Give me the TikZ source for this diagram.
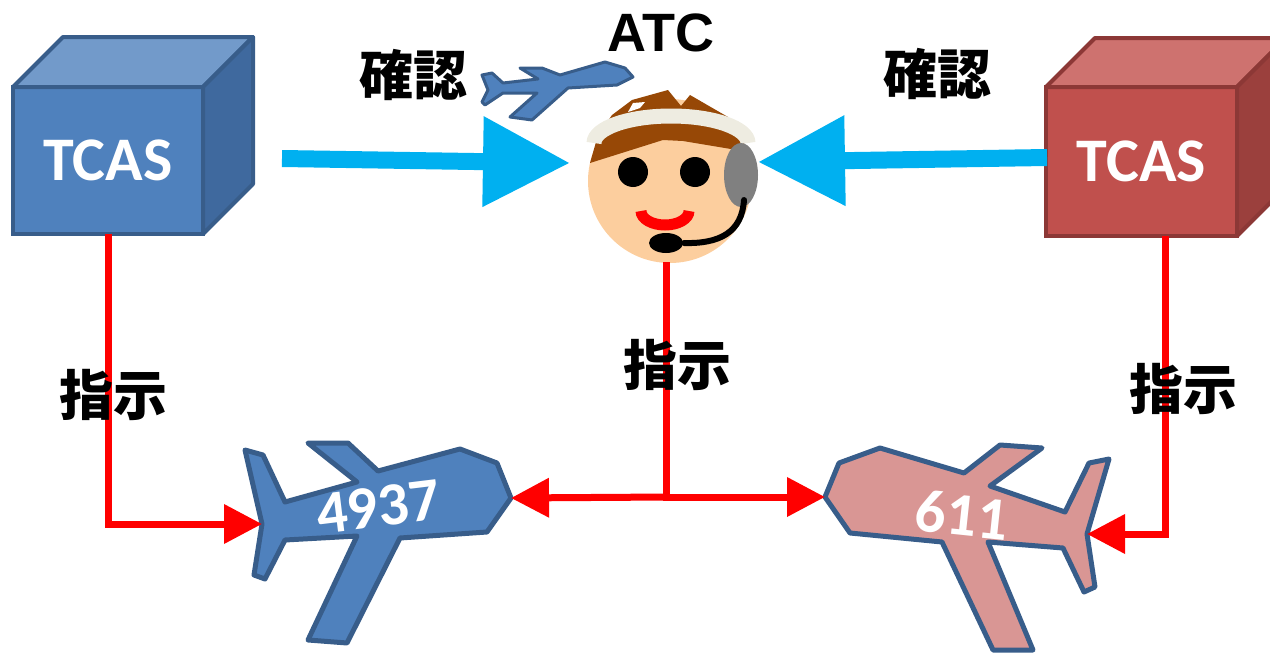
\documentclass[tikz,border=0pt]{standalone}
\usepackage{fontspec}
\setmainfont{Carlito}
\newfontfamily\cjk{Noto Sans CJK JP}
\newfontfamily\atcfont{Liberation Sans}
\usetikzlibrary{arrows.meta}

\definecolor{boxblue}{RGB}{79,129,189}
\definecolor{boxbluetop}{RGB}{114,154,202}
\definecolor{boxblueside}{RGB}{63,105,158}
\definecolor{edgeblue}{RGB}{56,93,138}
\definecolor{boxred}{RGB}{192,80,77}
\definecolor{boxredtop}{RGB}{206,114,111}
\definecolor{boxredside}{RGB}{155,64,61}
\definecolor{edgered}{RGB}{140,56,54}
\definecolor{planepink}{RGB}{217,150,148}
\definecolor{skyarrow}{RGB}{0,176,240}
\definecolor{skin}{RGB}{252,206,158}
\definecolor{hairbrown}{RGB}{151,72,6}
\definecolor{bandcol}{RGB}{238,236,225}
\definecolor{phonegray}{RGB}{128,128,128}

\tikzset{
  cubefront/.style={rectangle, line width=4pt, inner sep=0pt, outer sep=0pt,
    text=white, font=\bfseries\fontsize{62}{62}\selectfont},
  cubeface/.style={line width=4pt, line join=round},
  redlink/.style={red, line width=7pt, -{Triangle[length=38pt,width=38pt]}},
  bluelink/.style={skyarrow, line width=17pt, -{Triangle[length=87pt,width=86pt]}},
  jplabel/.style={inner sep=0pt, font=\cjk\bfseries\fontsize{54}{54}\selectfont},
  planebody/.style={line width=5pt, line join=round, draw=edgeblue},
  planenum/.style={inner sep=0pt, text=white, font=\bfseries\fontsize{61}{61}\selectfont}
}

\begin{document}
\begin{tikzpicture}[x=1pt, y=-1pt]
\useasboundingbox (0,0) rectangle (1270,653);
\clip (0,0) rectangle (1270,653);

% ---- left TCAS unit (blue cube) ----
\node[cubefront, fill=boxblue, draw=edgeblue, minimum width=190pt, minimum height=147pt]
  (tcasL) at (108,160.5) {TCAS};
\filldraw[cubeface, fill=boxbluetop, draw=edgeblue]
  (tcasL.north west) -- ++(50,-50) -- ([shift={(50,-50)}]tcasL.north east) -- (tcasL.north east) -- cycle;
\filldraw[cubeface, fill=boxblueside, draw=edgeblue]
  (tcasL.north east) -- ++(50,-50) -- ([shift={(50,-50)}]tcasL.south east) -- (tcasL.south east) -- cycle;

% ---- right TCAS unit (red cube) ----
\node[cubefront, fill=boxred, draw=edgered, minimum width=191pt, minimum height=149pt]
  (tcasR) at (1141.5,161.5) {TCAS};
\filldraw[cubeface, fill=boxredtop, draw=edgered]
  (tcasR.north west) -- ++(49,-49) -- ([shift={(49,-49)}]tcasR.north east) -- (tcasR.north east) -- cycle;
\filldraw[cubeface, fill=boxredside, draw=edgered]
  (tcasR.north east) -- ++(49,-49) -- ([shift={(49,-49)}]tcasR.south east) -- (tcasR.south east) -- cycle;

% ---- controller ----
\node[circle, fill=skin, minimum size=164pt, inner sep=0pt] (face) at (670,181) {};
\fill[hairbrown] (590,163) -- (598,135) -- (612,115) -- (632,100) -- (668,90) -- (681,106)
  -- (690,95) -- (728,117) -- (745,145) -- (737,150) -- (683,141) -- (663,140) -- cycle;
\fill[white] (628,112) -- (633,103) -- (645,102) -- (640,108) -- cycle;
\draw[bandcol, line width=15pt] (594,143) arc[start angle=180, end angle=360, x radius=77, y radius=27];
\fill[black] (633,172) circle[radius=15];
\fill[black] (695,172) circle[radius=15];
\draw[red, line width=11pt] (641,211) arc[start angle=180, end angle=0, x radius=24, y radius=14];
\fill[phonegray] (741,175) ellipse[x radius=17, y radius=32];
\draw[black, line width=6pt, line cap=round] (744,200) .. controls (742,232) and (720,244) .. (684,243);
\fill[black] (666,243) ellipse[x radius=17, y radius=10];

% ---- aircraft 4937 ----
\filldraw[planebody, fill=boxblue]
  (511,498) -- (497,463) -- (460,449) -- (378,471) -- (348,443) -- (308,443) -- (357,482)
  -- (285,502) -- (263,455) -- (245,450) -- (262,524) -- (254,575) -- (265,579) -- (285,540)
  -- (357,536) -- (308,640) -- (347,643) -- (400,538) -- (487,532) -- cycle;
\node[planenum, rotate=7] (n4937) at (378,507) {4937};
\coordinate (nose4937) at (511,498);
\coordinate (tail4937) at (262,524);

% ---- aircraft 611 ----
\filldraw[planebody, fill=planepink]
  (825,497) -- (839,463) -- (880,448) -- (964,473) -- (1000,445) -- (1042,448) -- (990,486)
  -- (1065,512) -- (1089,463) -- (1109,459) -- (1087,534) -- (1095,587) -- (1084,592)
  -- (1063,548) -- (988,542) -- (1033,650) -- (993,650) -- (942,542) -- (850,533) -- cycle;
\node[planenum, rotate=-6] (n611) at (962,515) {611};
\coordinate (nose611) at (825,497);
\coordinate (tail611) at (1087,534);

% ---- confirmation arrows to ATC ----
\coordinate (cfL) at (282,158.5);
\coordinate (cfLtip) at (570,163);
\coordinate (cfR) at (1047,157.5);
\coordinate (cfRtip) at (758,162);
\draw[bluelink] (cfL) -- (cfLtip);
\draw[bluelink] (cfR) -- (cfRtip);

% small aircraft beside the controller
\filldraw[line width=3pt, line join=round, draw=edgeblue, fill=boxblue]
  (633,77) -- (625,68) -- (605,62) -- (560,75) -- (542,68) -- (520,68) -- (538,79) -- (503,83)
  -- (492,73) -- (482,75) -- (488,90) -- (482,102) -- (485,105) -- (503,93) -- (537,93)
  -- (510,117) -- (532,120) -- (568,88) -- (617,85) -- cycle;

% ---- instruction links ----
\coordinate (atcdrop) at (666,262);
\coordinate (split) at (666,497);
\coordinate (rdrop) at (1165,236);
\draw[redlink] (tcasL.south) |- (tail4937);
\draw[redlink] (rdrop) |- (tail611);
\draw[red, line width=7pt] (atcdrop) -- (split);
\draw[redlink] ([xshift=3.5pt]split) -- (nose4937);
\draw[redlink] ([xshift=-3.5pt]split) -- (nose611);

% ---- labels ----
\node[inner sep=0pt, font=\atcfont\bfseries\fontsize{54}{54}\selectfont] (atc) at (661,33) {ATC};
\node[jplabel] (cfLlabel) at (413,75) {確認};
\node[jplabel] (cfRlabel) at (937,74) {確認};
\node[jplabel] (inL) at (113,395) {指示};
\node[jplabel] (inM) at (677,365) {指示};
\node[jplabel] (inR) at (1183,389) {指示};
\end{tikzpicture}
\end{document}
